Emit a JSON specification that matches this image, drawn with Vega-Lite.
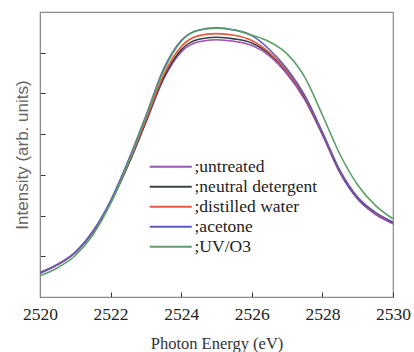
{
  "$schema": "https://vega.github.io/schema/vega-lite/v6.json",
  "autosize": {"type": "none"},
  "padding": {"left": 40, "top": 12, "right": 21, "bottom": 55},
  "width": 353,
  "height": 285,
  "background": "white",
  "config": {
    "view": {"stroke": "#8a8a8a", "strokeWidth": 1.2},
    "font": "Liberation Serif, Times New Roman, serif",
    "axis": {
      "domainColor": "#8a8a8a",
      "tickColor": "#333",
      "grid": false,
      "labelFont": "Liberation Serif, Times New Roman, serif",
      "titleFont": "Liberation Serif, Times New Roman, serif",
      "labelFontSize": 17.5,
      "titleFontSize": 16.5,
      "titleFontWeight": "normal",
      "labelColor": "#222",
      "titleColor": "#333"
    },
    "legend": {"labelFont": "Liberation Serif, Times New Roman, serif"}
  },
  "data": {
    "values": [
      {"e": 2520, "untreated": 0.58, "neutral": 0.6, "water": 0.6, "acetone": 0.59, "uv": 0.52},
      {"e": 2520.5, "untreated": 0.79, "neutral": 0.8, "water": 0.8, "acetone": 0.8, "uv": 0.72},
      {"e": 2521, "untreated": 1.09, "neutral": 1.1, "water": 1.1, "acetone": 1.1, "uv": 1.02},
      {"e": 2521.5, "untreated": 1.6, "neutral": 1.6, "water": 1.6, "acetone": 1.62, "uv": 1.53},
      {"e": 2522, "untreated": 2.32, "neutral": 2.32, "water": 2.33, "acetone": 2.37, "uv": 2.3},
      {"e": 2522.5, "untreated": 3.25, "neutral": 3.25, "water": 3.28, "acetone": 3.35, "uv": 3.3},
      {"e": 2523, "untreated": 4.3, "neutral": 4.3, "water": 4.35, "acetone": 4.45, "uv": 4.42},
      {"e": 2523.5, "untreated": 5.35, "neutral": 5.38, "water": 5.45, "acetone": 5.6, "uv": 5.55},
      {"e": 2524, "untreated": 6.02, "neutral": 6.07, "water": 6.15, "acetone": 6.3, "uv": 6.28},
      {"e": 2524.5, "untreated": 6.27, "neutral": 6.33, "water": 6.42, "acetone": 6.56, "uv": 6.55},
      {"e": 2525, "untreated": 6.32, "neutral": 6.38, "water": 6.47, "acetone": 6.61, "uv": 6.6},
      {"e": 2525.5, "untreated": 6.28, "neutral": 6.34, "water": 6.43, "acetone": 6.56, "uv": 6.56},
      {"e": 2526, "untreated": 6.18, "neutral": 6.24, "water": 6.3, "acetone": 6.42, "uv": 6.43},
      {"e": 2526.5, "untreated": 5.92, "neutral": 5.97, "water": 6.0, "acetone": 6.08, "uv": 6.27},
      {"e": 2527, "untreated": 5.47, "neutral": 5.53, "water": 5.55, "acetone": 5.6, "uv": 5.97},
      {"e": 2527.5, "untreated": 4.85, "neutral": 4.9, "water": 4.92, "acetone": 4.95, "uv": 5.4},
      {"e": 2528, "untreated": 3.98, "neutral": 4.02, "water": 4.03, "acetone": 4.05, "uv": 4.47},
      {"e": 2528.5, "untreated": 3.04, "neutral": 3.08, "water": 3.1, "acetone": 3.1, "uv": 3.5},
      {"e": 2529, "untreated": 2.4, "neutral": 2.43, "water": 2.45, "acetone": 2.45, "uv": 2.75},
      {"e": 2529.5, "untreated": 2.03, "neutral": 2.06, "water": 2.07, "acetone": 2.08, "uv": 2.25},
      {"e": 2530, "untreated": 1.8, "neutral": 1.83, "water": 1.84, "acetone": 1.84, "uv": 1.92}
    ]
  },
  "transform": [
    {"fold": ["untreated", "neutral", "water", "acetone", "uv"], "as": ["key", "value"]},
    {"lookup": "key", "from": {"data": {"values": [
      {"key": "untreated", "sample": ";untreated", "ord": 1},
      {"key": "neutral", "sample": ";neutral detergent", "ord": 2},
      {"key": "water", "sample": ";distilled water", "ord": 3},
      {"key": "acetone", "sample": ";acetone", "ord": 4},
      {"key": "uv", "sample": ";UV/O3", "ord": 5}
    ]}, "key": "key", "fields": ["sample", "ord"]}}
  ],
  "mark": {"type": "line", "interpolate": "monotone", "strokeWidth": 1.6, "clip": true},
  "encoding": {
    "x": {
      "field": "e", "type": "quantitative",
      "scale": {"domain": [2520, 2530], "nice": false, "zero": false},
      "axis": {"values": [2520, 2522, 2524, 2526, 2528, 2530], "tickSize": -5, "labelPadding": 13, "title": "Photon Energy (eV)", "titlePadding": 13, "format": "d", "labelFlush": false}
    },
    "y": {
      "field": "value", "type": "quantitative",
      "scale": {"domain": [0, 7], "nice": false},
      "axis": {"values": [1, 2, 3, 4, 5, 6], "tickSize": -5, "labels": false, "title": "Intensity (arb. units)", "titlePadding": 8, "titleColor": "#666", "titleFont": "Liberation Sans, Arial, sans-serif", "titleFontSize": 17}
    },
    "color": {
      "field": "sample", "type": "nominal",
      "scale": {
        "domain": [";untreated", ";neutral detergent", ";distilled water", ";acetone", ";UV/O3"],
        "range": ["#a050b8", "#3a4048", "#e8583a", "#5a5cc0", "#5aa068"]
      },
      "legend": {
        "title": null,
        "orient": "none",
        "legendX": 122,
        "legendY": 146,
        "symbolType": "M-3.5,0H3.5",
        "symbolSize": 144,
        "symbolStrokeWidth": 2.2,
        "labelFont": "Liberation Serif, Times New Roman, serif",
        "labelFontSize": 17.5,
        "labelColor": "#222",
        "labelOffset": 15,
        "rowPadding": 1
      }
    },
    "order": {"field": "ord"}
  }
}
